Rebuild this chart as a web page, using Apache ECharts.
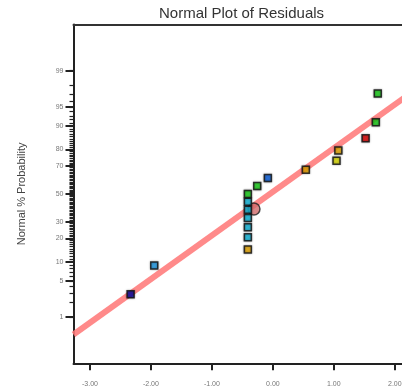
<!DOCTYPE html>
<html>
<head>
<meta charset="utf-8">
<script src="https://cdn.jsdelivr.net/npm/echarts@6/dist/echarts.min.js"></script>
<style>html,body{margin:0;padding:0;background:#fff;}#c{width:402px;height:391px;}</style>
</head>
<body>
<div id="c"></div>
<script>
// ---- data ----
var residuals = [-2.333, -1.946, -0.41, -0.41, -0.41, -0.41, -0.41, -0.41, -0.41, -0.257, -0.082, 0.541, 1.044, 1.074, 1.521, 1.689, 1.721];
var probabilities = [2.9, 8.8, 14.7, 20.6, 26.5, 32.4, 38.2, 44.1, 50.0, 55.9, 61.8, 67.6, 73.5, 79.4, 85.3, 91.2, 97.1];
var pointColors = ['#0a0aa8', '#1e9ae6', '#e8a800', '#10b8dc', '#10b8dc', '#10b8dc', '#10b8dc', '#10b8dc', '#18d018', '#18d018', '#0a60e0', '#e8a800', '#dcdc00', '#e8a800', '#e00000', '#18d018', '#18d018'];
var centerPoint = [-0.31, 38.8];
var fitLineX = [-3.27, 2.3];
var fitLinePct = [0.395, 97.35];
var yTickPct = [1, 5, 10, 20, 30, 50, 70, 80, 90, 95, 99];
var yMinorPct = [];
for (var i = 1; i <= 99; i++) yMinorPct.push(i);
var xTicks = [-3, -2, -1, 0, 1, 2];

// inverse normal CDF (probability axis transform)
function probit(p) {
  var a = [-3.969683028665376e+01, 2.209460984245205e+02, -2.759285104469687e+02, 1.383577518672690e+02, -3.066479806614716e+01, 2.506628277459239e+00];
  var b = [-5.447609879822406e+01, 1.615858368580409e+02, -1.556989798598866e+02, 6.680131188771972e+01, -1.328068155288572e+01];
  var c = [-7.784894002430293e-03, -3.223964580411365e-01, -2.400758277161838e+00, -2.549732539343734e+00, 4.374664141464968e+00, 2.938163982698783e+00];
  var d = [7.784695709041462e-03, 3.224671290700398e-01, 2.445134137142996e+00, 3.754408661907416e+00];
  var pl = 0.02425, q, r;
  if (p < pl) { q = Math.sqrt(-2 * Math.log(p)); return (((((c[0]*q+c[1])*q+c[2])*q+c[3])*q+c[4])*q+c[5]) / ((((d[0]*q+d[1])*q+d[2])*q+d[3])*q+1); }
  if (p <= 1 - pl) { q = p - 0.5; r = q*q; return (((((a[0]*r+a[1])*r+a[2])*r+a[3])*r+a[4])*r+a[5])*q / (((((b[0]*r+b[1])*r+b[2])*r+b[3])*r+b[4])*r+1); }
  q = Math.sqrt(-2 * Math.log(1 - p)); return -(((((c[0]*q+c[1])*q+c[2])*q+c[3])*q+c[4])*q+c[5]) / ((((d[0]*q+d[1])*q+d[2])*q+d[3])*q+1);
}
function z(pct) { return probit(pct / 100); }

var yTickZ = yTickPct.map(z);
var yMinorZ = yMinorPct.map(z);

var pts = residuals.map(function (x, i) {
  return { value: [x, z(probabilities[i])], itemStyle: { color: pointColors[i] } };
});
var lineData = fitLineX.map(function (x, i) { return [x, z(fitLinePct[i])]; });

var YMIN = -3.2, YMAX = 3.2, XMIN = -3.27, XMAX = 2.2;
var font = 'Liberation Sans, Arial, sans-serif';

var chart = echarts.init(document.getElementById('c'), null, { renderer: 'canvas' });
chart.setOption({
  animation: false,
  title: {
    text: 'Normal Plot of Residuals', left: 154, top: 1,
    textStyle: { fontSize: 15, fontWeight: 'normal', color: '#333', fontFamily: font }
  },
  grid: { left: 73.5, top: 24.5, right: -5, bottom: 27.7, containLabel: false, outerBoundsMode: 'none' },
  xAxis: [{
    type: 'value', min: XMIN, max: XMAX, position: 'bottom',
    axisLine: { show: true, onZero: false, lineStyle: { color: '#222', width: 2 } },
    axisTick: { show: true, inside: false, length: 7, lineStyle: { color: '#222', width: 2 }, customValues: xTicks },
    axisLabel: { show: true, margin: 17, fontSize: 7, color: '#777', fontFamily: font, customValues: xTicks,
      formatter: function (v) { return v.toFixed(2); } },
    splitLine: { show: false }
  }, {
    type: 'value', min: XMIN, max: XMAX, position: 'top',
    axisLine: { show: true, onZero: false, lineStyle: { color: '#333', width: 2 } },
    axisTick: { show: false }, axisLabel: { show: false }, splitLine: { show: false }
  }],
  yAxis: [{
    type: 'value', min: YMIN, max: YMAX, position: 'left',
    name: 'Normal % Probability', nameLocation: 'middle', nameGap: 46,
    nameTextStyle: { fontSize: 11, color: '#444', fontFamily: font },
    axisLine: { show: true, onZero: false, lineStyle: { color: '#222', width: 2 } },
    axisTick: { show: true, length: 8, lineStyle: { color: '#222', width: 2 }, customValues: yTickZ },
    axisLabel: { show: true, margin: 10, fontSize: 7, color: '#777', fontFamily: font, customValues: yTickZ,
      formatter: function (v) {
        var best = 0;
        for (var k = 0; k < yTickZ.length; k++) if (Math.abs(yTickZ[k] - v) < Math.abs(yTickZ[best] - v)) best = k;
        return String(yTickPct[best]);
      } },
    splitLine: { show: false }
  }, {
    type: 'value', min: YMIN, max: YMAX, position: 'left', offset: 0,
    axisLine: { show: false, onZero: false },
    axisTick: { show: true, length: 4, lineStyle: { color: '#222', width: 1.2 }, customValues: yMinorZ },
    axisLabel: { show: false }, splitLine: { show: false }
  }],
  series: [{
    type: 'line', data: lineData, symbol: 'none', silent: true, z: 1,
    lineStyle: { color: '#ff7a7a', width: 6, opacity: 0.88 }
  }, {
    type: 'scatter', data: [[centerPoint[0], z(centerPoint[1])]], symbol: 'circle', symbolSize: 12, z: 2,
    itemStyle: { color: '#d06a6a', borderColor: '#222', borderWidth: 1.5 }
  }, {
    type: 'scatter', data: pts, symbol: 'rect', symbolSize: 7, z: 3,
    itemStyle: { borderColor: '#111', borderWidth: 1.5, shadowBlur: 2, shadowColor: 'rgba(0,0,0,0.45)' }
  }]
});
</script>
</body>
</html>
